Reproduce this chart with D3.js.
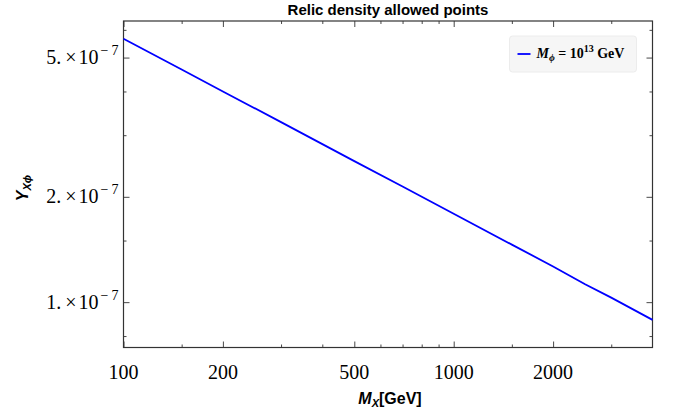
<!DOCTYPE html>
<html>
<head>
<meta charset="utf-8">
<script src="https://cdn.jsdelivr.net/npm/d3@7"></script>
<style>
  body { margin: 0; background: #fff; }
  .serif { font-family: "Liberation Serif", "DejaVu Serif", serif; }
  .sans { font-family: "Liberation Sans", Arial, sans-serif; }
</style>
</head>
<body>
<svg id="chart" width="673" height="407"></svg>
<script>
// Data
const massGeV = [100, 150, 200, 300, 500, 700, 1000, 1500, 2000, 2500, 3000, 4000];
const yieldY = [5.66e-7, 4.62e-7, 4.0e-7, 3.27e-7, 2.53e-7, 2.14e-7, 1.79e-7, 1.46e-7, 1.265e-7, 1.125e-7, 1.03e-7, 8.9e-8];

// Ticks
const xMajorTicks = [100, 200, 500, 1000, 2000];
const xTickLabels = ["100", "200", "500", "1000", "2000"];
const xMinorTicks = [150, 300, 400, 600, 700, 800, 900, 1500, 3000];
const yMajorTicks = [5e-7, 2e-7, 1e-7];
const yTickMantissa = ["5.", "2.", "1."];
const yTickExponent = ["7", "7", "7"];
const yMinorTicks = [6e-7, 4e-7, 3e-7, 1.5e-7, 8e-8];

const width = 673, height = 407;
const margin = { left: 123.5, right: 20.5, top: 21, bottom: 59.5 };
const drawWidth = width - margin.left - margin.right;
const drawHeight = height - margin.top - margin.bottom;

const svg = d3.select("#chart");

// Scales
const xScale = d3.scaleLog().domain([100, 4000]).range([0, drawWidth]);
const yScale = d3.scaleLog().domain([7.42e-8, 6.36e-7]).range([drawHeight, 0]);

const g = svg.append("g").attr("transform", `translate(${margin.left},${margin.top})`);

// Axes (ticks pointing inward on all four sides)
function addAxis(axisFn, scale, ticks, size, transform) {
    const ax = g.append("g")
        .attr("transform", transform)
        .call(axisFn(scale).tickValues(ticks).tickSizeInner(-size).tickSizeOuter(0).tickFormat(""));
    ax.select(".domain").remove();
    ax.selectAll("line").attr("stroke", "#333").attr("stroke-width", 0.9);
    return ax;
}

addAxis(d3.axisBottom, xScale, xMajorTicks, 6, `translate(0,${drawHeight})`);
addAxis(d3.axisBottom, xScale, xMinorTicks, 3, `translate(0,${drawHeight})`);
addAxis(d3.axisTop, xScale, xMajorTicks, 6, "translate(0,0)");
addAxis(d3.axisTop, xScale, xMinorTicks, 3, "translate(0,0)");
addAxis(d3.axisLeft, yScale, yMajorTicks, 6, "translate(0,0)");
addAxis(d3.axisLeft, yScale, yMinorTicks, 3, "translate(0,0)");
addAxis(d3.axisRight, yScale, yMajorTicks, 6, `translate(${drawWidth},0)`);
addAxis(d3.axisRight, yScale, yMinorTicks, 3, `translate(${drawWidth},0)`);

// Frame
g.append("rect")
    .attr("width", drawWidth).attr("height", drawHeight)
    .attr("fill", "none").attr("stroke", "#333").attr("stroke-width", 1.2);

// X tick labels
g.selectAll(".xlab").data(xMajorTicks).enter().append("text")
    .attr("class", "serif")
    .attr("x", d => xScale(d))
    .attr("y", drawHeight + 31.5)
    .attr("text-anchor", "middle")
    .attr("font-size", 20)
    .text((d, i) => xTickLabels[i]);

// Y tick labels: mantissa × 10^(−n)
const ylab = g.selectAll(".ylab").data(yMajorTicks).enter().append("text")
    .attr("class", "serif")
    .attr("x", -5)
    .attr("y", d => yScale(d) + 6.5)
    .attr("text-anchor", "end")
    .attr("font-size", 20);
ylab.append("tspan").text((d, i) => yTickMantissa[i]);
ylab.append("tspan").attr("dx", 4).text("×");
ylab.append("tspan").attr("dx", 2).text("10");
ylab.append("tspan").attr("dx", 2).attr("dy", -9).attr("font-size", 14).text("−");
ylab.append("tspan").attr("dx", 3).attr("font-size", 14).text((d, i) => yTickExponent[i]);

// Line
const line = d3.line()
    .x((d, i) => xScale(massGeV[i]))
    .y(d => yScale(d));

g.append("path")
    .datum(yieldY)
    .attr("fill", "none")
    .attr("stroke", "#0000ff")
    .attr("stroke-width", 1.8)
    .attr("d", line);

// Legend
const legend = svg.append("g").attr("transform", "translate(509.5,36)");
legend.append("rect")
    .attr("width", 127).attr("height", 36).attr("rx", 3)
    .attr("fill", "#f6f6f6").attr("stroke", "#ececec");
legend.append("line")
    .attr("x1", 8).attr("x2", 21).attr("y1", 18).attr("y2", 18)
    .attr("stroke", "#0000ff").attr("stroke-width", 1.8);
const lt = legend.append("text").attr("class", "serif")
    .attr("x", 27).attr("y", 22).attr("font-size", 14).attr("font-weight", "bold");
lt.append("tspan").attr("font-style", "italic").text("M");
lt.append("tspan").attr("font-style", "italic").attr("font-size", 10).attr("dy", 3).text("ϕ");
lt.append("tspan").attr("dy", -3).text(" = 10");
lt.append("tspan").attr("font-size", 10).attr("dy", -6).text("13");
lt.append("tspan").attr("dy", 6).text(" GeV");

// Title
svg.append("text").attr("class", "sans")
    .attr("x", margin.left + drawWidth / 2).attr("y", 14.5)
    .attr("text-anchor", "middle").attr("font-size", 15).attr("font-weight", "bold")
    .text("Relic density allowed points");

// X axis label
const xt = svg.append("text").attr("class", "sans")
    .attr("x", margin.left + drawWidth / 2 + 2).attr("y", 403.5)
    .attr("text-anchor", "middle").attr("font-size", 16).attr("font-weight", "bold");
xt.append("tspan").attr("font-style", "italic").text("M");
xt.append("tspan").attr("font-style", "italic").attr("font-size", 11).attr("dy", 3).text("X");
xt.append("tspan").attr("dy", -3).text("[GeV]");

// Y axis label
const yt = svg.append("text").attr("class", "sans")
    .attr("transform", "translate(28,188) rotate(-90)")
    .attr("text-anchor", "middle").attr("font-size", 16).attr("font-weight", "bold");
yt.append("tspan").attr("font-style", "italic").text("Y");
yt.append("tspan").attr("font-style", "italic").attr("font-size", 11).attr("dy", 3).text("Xϕ");
</script>
</body>
</html>
